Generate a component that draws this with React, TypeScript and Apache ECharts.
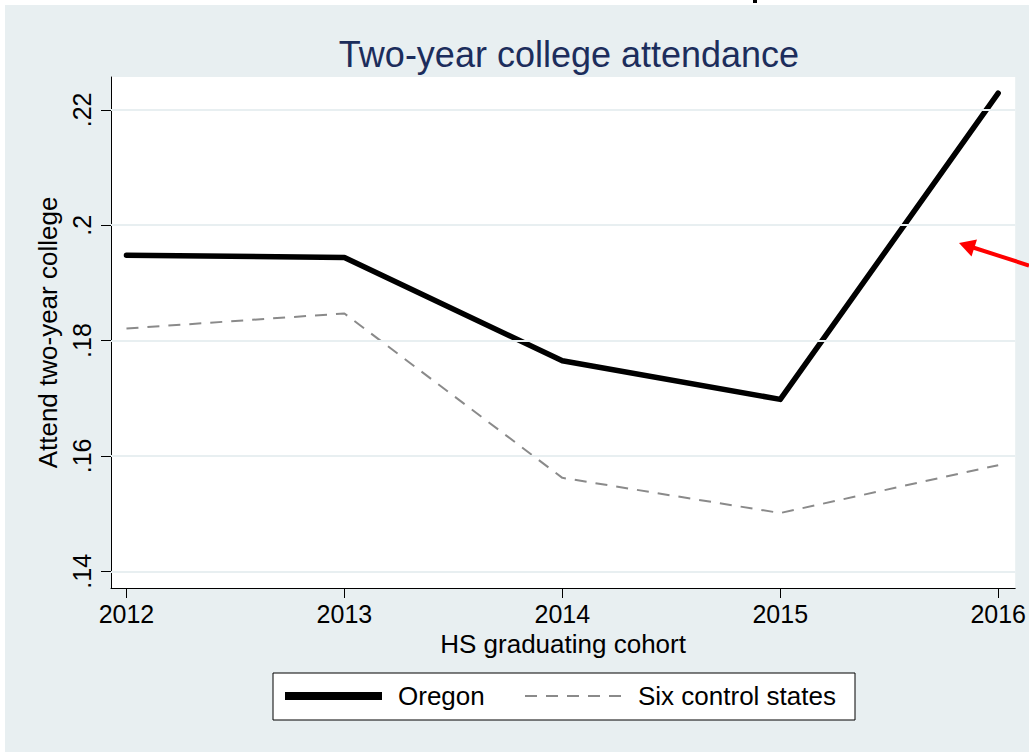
import React, { useEffect, useRef } from "react";
import * as echarts from "echarts";

const years = [2012, 2013, 2014, 2015, 2016];
const oregon = [0.1948, 0.1944, 0.1765, 0.1698, 0.2229];
const control = [0.1821, 0.1847, 0.1562, 0.1501, 0.1584];
const yTicks = [0.14, 0.16, 0.18, 0.2, 0.22];
const seriesNames = ["Oregon", "Six control states"];
const titleText = "Two-year college attendance";
const xTitle = "HS graduating cohort";
const yTitle = "Attend two-year college";

const FONT = "'Liberation Sans', Arial, Helvetica, sans-serif";
const BG = "#E8EFF1";

export default function App() {
  const ref = useRef<HTMLDivElement>(null);
  useEffect(() => {
    if (!ref.current) return;
    const chart = echarts.init(ref.current, null, { renderer: "svg" });
    const legendCommon = {
      orient: "horizontal",
      top: 683,
      padding: 0,
      itemWidth: 97,
      itemHeight: 28,
      z: 10,
      itemStyle: { opacity: 0 },
      textStyle: { fontFamily: FONT, fontSize: 26, color: "#000", padding: [0, 0, 0, 11] },
    };
    chart.setOption({
      animation: false,
      backgroundColor: BG,
      textStyle: { fontFamily: FONT },
      title: {
        text: titleText,
        left: 564,
        textAlign: "center",
        top: 31,
        textStyle: { fontFamily: FONT, fontSize: 36, fontWeight: "normal", color: "#1C2D5C" },
      },
      grid: {
        left: 111,
        right: 12,
        top: 77,
        bottom: 164,
        show: true,
        backgroundColor: "#ffffff",
        borderWidth: 0,
      },
      legend: [
        { ...legendCommon, left: 281, data: [seriesNames[0]], lineStyle: { width: 8, color: "#000", cap: "butt" } },
        { ...legendCommon, left: 524, data: [seriesNames[1]] },
      ],
      xAxis: {
        type: "value",
        min: 2011.929,
        max: 2016.078,
        name: xTitle,
        nameLocation: "middle",
        nameGap: 40,
        nameTextStyle: { fontFamily: FONT, fontSize: 26, color: "#000" },
        axisLine: { show: true, lineStyle: { color: "#000", width: 1 } },
        axisTick: { show: true, length: 10, lineStyle: { color: "#000" }, customValues: years },
        axisLabel: {
          customValues: years,
          margin: 13,
          fontFamily: FONT,
          fontSize: 25,
          color: "#000",
          formatter: (v: number) => String(v),
        },
        splitLine: { show: false },
      },
      yAxis: {
        type: "value",
        min: 0.1371,
        max: 0.2257,
        name: yTitle,
        nameLocation: "middle",
        nameRotate: 90,
        nameGap: 43,
        nameTextStyle: { fontFamily: FONT, fontSize: 26, color: "#000" },
        axisLine: { show: true, lineStyle: { color: "#000", width: 1 } },
        axisTick: { show: true, length: 10, lineStyle: { color: "#000" }, customValues: yTicks },
        axisLabel: {
          customValues: yTicks,
          rotate: 90,
          margin: 17,
          fontFamily: FONT,
          fontSize: 25,
          color: "#000",
          formatter: (v: number) => String(v).replace(/^0/, ""),
        },
        splitLine: { show: false },
      },
      series: [
        {
          name: "gridlines",
          type: "line",
          data: [],
          z: 1,
          silent: true,
          markLine: {
            silent: true,
            symbol: ["none", "none"],
            label: { show: false },
            lineStyle: { color: BG, type: "solid", width: 2 },
            data: yTicks.map((v) => ({ yAxis: v })),
          },
        },
        {
          name: seriesNames[1],
          type: "line",
          z: 3,
          symbol: "none",
          data: years.map((y, i) => [y, control[i]]),
          lineStyle: { color: "#8A8A8A", width: 2, type: [12, 9] },
          itemStyle: { color: "#8A8A8A" },
        },
        {
          name: seriesNames[0],
          type: "line",
          z: 4,
          symbol: "none",
          data: years.map((y, i) => [y, oregon[i]]),
          lineStyle: { color: "#000", width: 5.5, cap: "round", join: "round" },
          itemStyle: { color: "#000" },
        },
      ],
      graphic: [
        { type: "rect", z: 0, shape: { x: 273, y: 673, width: 582, height: 47 }, style: { fill: "#fff", stroke: "#000", lineWidth: 1 } },
        { type: "rect", z: 100, shape: { x: 0, y: 0, width: 1029, height: 5 }, style: { fill: "#fff" } },
        { type: "rect", z: 100, shape: { x: 0, y: 0, width: 5, height: 752 }, style: { fill: "#fff" } },
        { type: "rect", z: 101, shape: { x: 753, y: 0, width: 4, height: 3 }, style: { fill: "#000" } },
        { type: "line", z: 100, shape: { x1: 970, y1: 246.5, x2: 1029, y2: 265.5 }, style: { stroke: "#FF0000", lineWidth: 4 } },
        { type: "polygon", z: 100, shape: { points: [[959, 243], [977, 239.5], [971.5, 256.5]] }, style: { fill: "#FF0000" } },
      ],
    });
    return () => chart.dispose();
  }, []);
  return (
    <div
      ref={ref}
      style={{ position: "fixed", left: 0, top: 0, width: 1029, height: 752 }}
    />
  );
}
